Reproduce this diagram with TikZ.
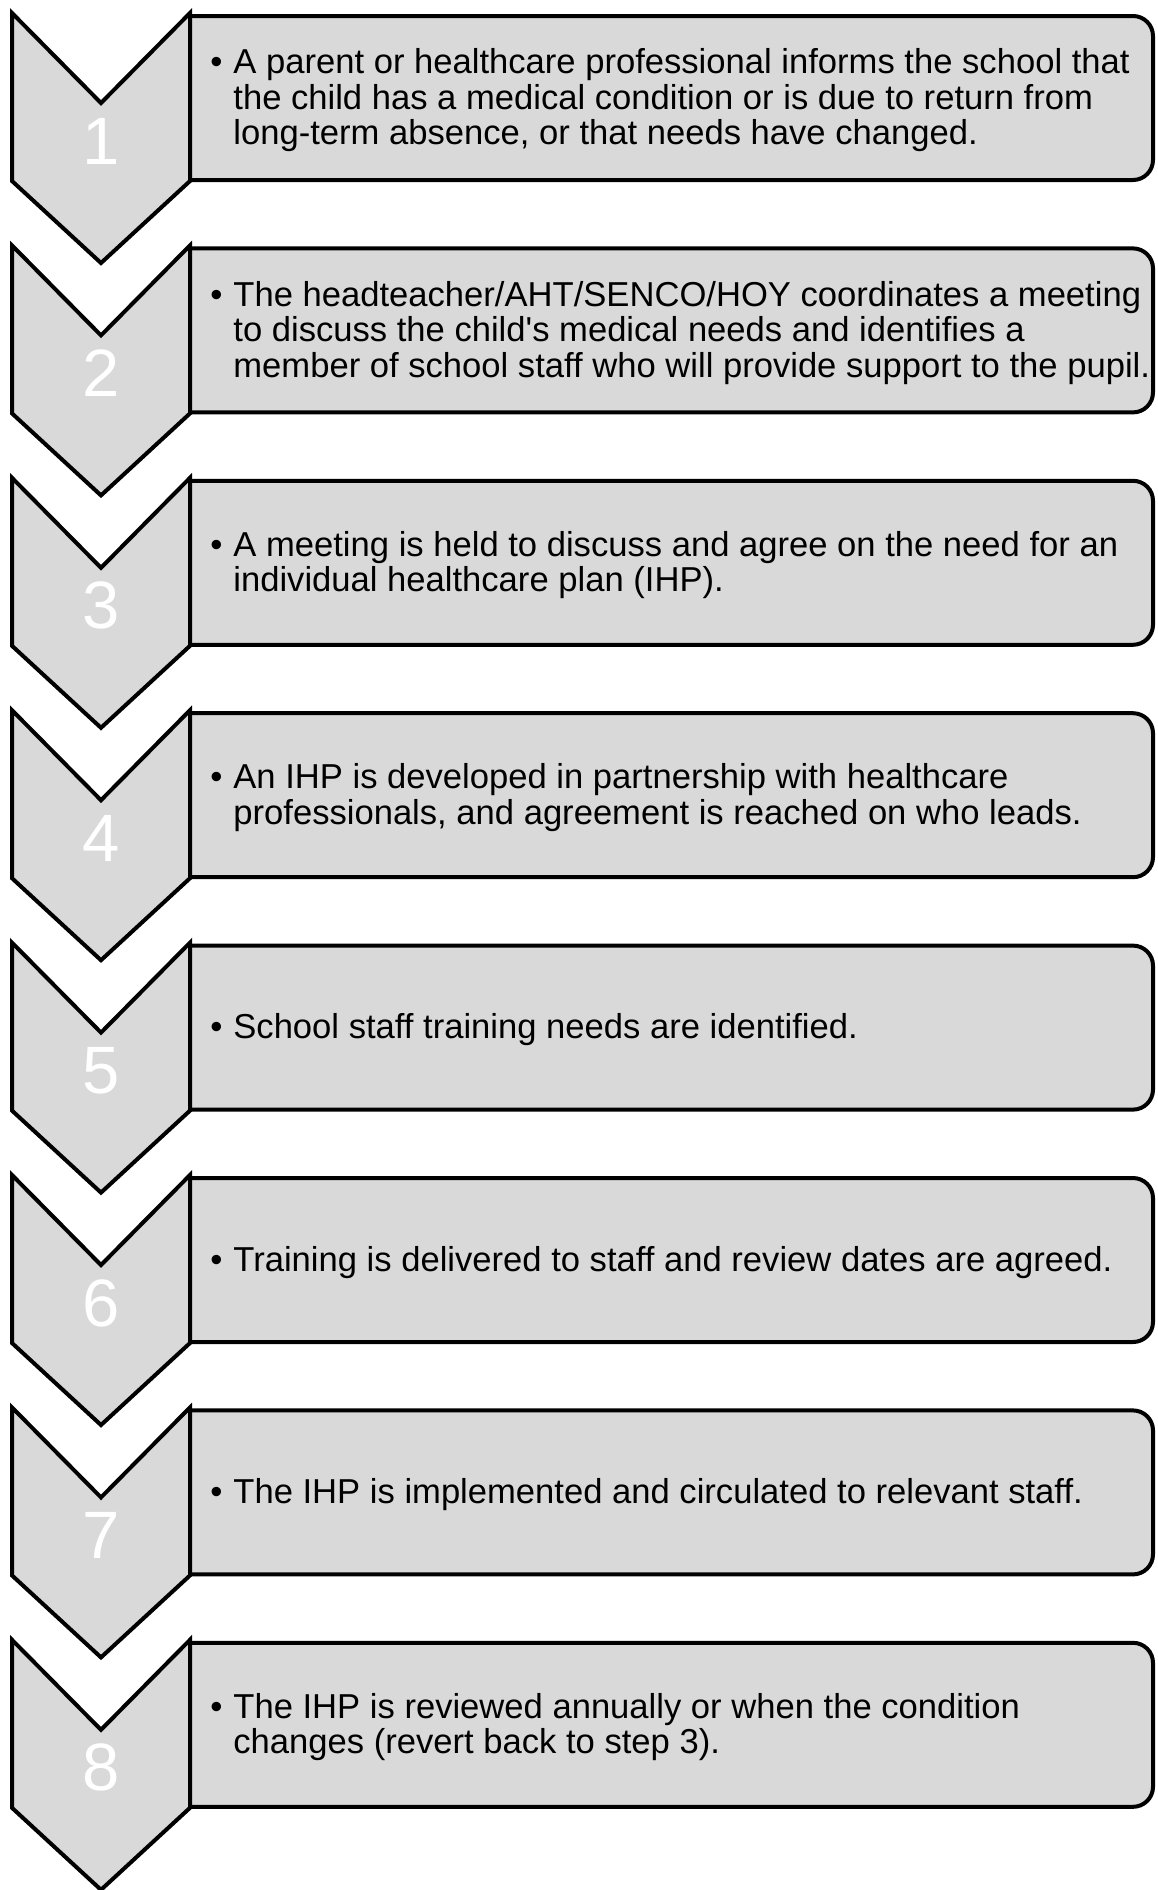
\documentclass[tikz,border=0pt]{standalone}
\usepackage{fontspec}
\setmainfont{Liberation Sans}
\definecolor{chevgray}{HTML}{D9D9D9}

\begin{document}
\begin{tikzpicture}[
      x=0.5pt, y=-0.5pt,
      chev/.style={fill=chevgray, draw=black, line width=2pt, line join=miter},
      panel/.style={fill=chevgray, draw=black, line width=2pt, rounded corners=10pt},
      num/.style={text=white, inner sep=0pt, font=\fontsize{33.5}{36}\selectfont},
      item/.style={anchor=west, inner sep=0pt, font=\fontsize{17.3}{17.6}\selectfont},
    ]
    \useasboundingbox (0,0) rectangle (1157,1890);
    \foreach \n/\txt in {
        1/{A parent or healthcare professional informs the school that\\ the child has a medical condition or is due to return from\\ long-term absence, or that needs have changed.},
        2/{The headteacher/AHT/SENCO/HOY coordinates a meeting\\ to discuss the child\textquotesingle s medical needs and identifies a\\ member of school staff who will provide support to the pupil.},
        3/{A meeting is held to discuss and agree on the need for an\\ individual healthcare plan (IHP).},
        4/{An IHP is developed in partnership with healthcare\\ professionals, and agreement is reached on who leads.},
        5/{School staff training needs are identified.},
        6/{Training is delivered to staff and review dates are agreed.},
        7/{The IHP is implemented and circulated to relevant staff.},
        8/{The IHP is reviewed annually or when the condition\\ changes (revert back to step 3).}}{
      \pgfmathsetmacro{\ytop}{13+(\n-1)*232.4}
      \path[panel] (190,\ytop+3) -- (1153,\ytop+3) -- (1153,\ytop+167) -- (190,\ytop+167);
      \draw[chev] (12,\ytop) -- (101,\ytop+90) -- (190,\ytop) -- (190,\ytop+168)
        -- (101,\ytop+250) -- (12,\ytop+168) -- cycle;
      \node[num] (num\n) at (101,\ytop+128) {\n};
      \node[item] (step\n) at (210,\ytop+89)
        {\makebox[11.5pt][l]{\textbullet}\begin{tabular}[t]{@{}l@{}}\txt\end{tabular}};
    };
  \end{tikzpicture}
\end{document}
